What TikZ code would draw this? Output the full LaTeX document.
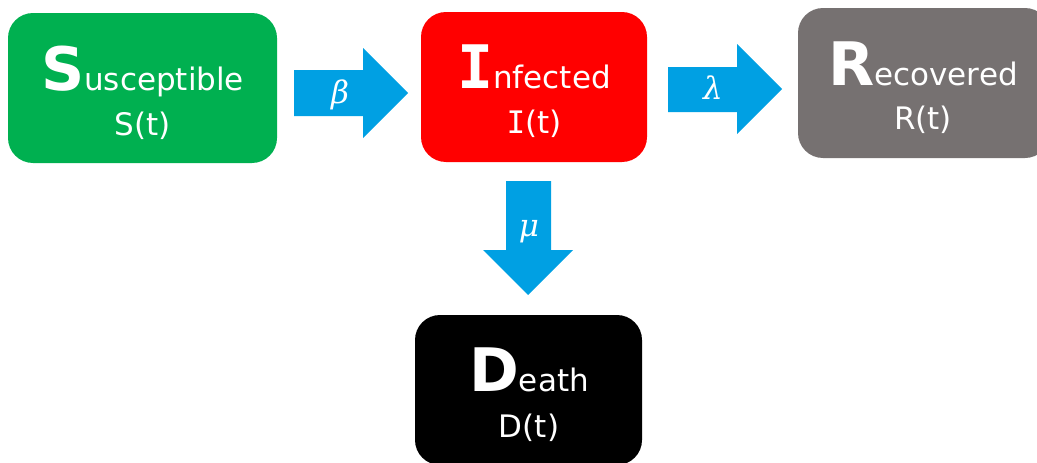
\documentclass[tikz,border=0pt]{standalone}
\usepackage{fontspec}
\setmainfont{DejaVu Sans}
\newfontfamily\slabfont{DejaVu Sans Mono}
\newfontfamily\gkfont{DejaVu Serif}
\definecolor{sgreen}{HTML}{00B050}
\definecolor{ired}{HTML}{FF0000}
\definecolor{rgray}{HTML}{767171}
\definecolor{arrblue}{HTML}{00A0E3}
\begin{document}
\begin{tikzpicture}[x=1pt,y=-1pt,
  box/.style={rounded corners=25pt, inner sep=0pt, outer sep=0pt, minimum height=150pt},
  lbl/.style={anchor=base, text=white, inner sep=0pt},
  smallt/.style={font=\fontsize{31}{31}\selectfont},
  greek/.style={text=white, inner sep=0pt, font=\gkfont\itshape\fontsize{31}{31}\selectfont},
  blockarrow/.style={fill=arrblue, draw=none}]
\useasboundingbox (0,0) rectangle (1037,463);
\clip (0,0) rectangle (1037,463);
% boxes
\node[box, fill=sgreen, minimum width=269pt] (S) at (142.5,88) {};
\node[box, fill=ired, minimum width=226pt] (I) at (534,87) {};
\node[box, fill=rgray, minimum width=252pt] (R) at (924,83) {};
\node[box, fill=black, minimum width=227pt] (D) at (528.5,390) {};
% labels
\node[lbl] (Sname) at (142.5,90) {{\fontsize{60}{60}\selectfont\bfseries S}{\fontsize{31}{31}\selectfont usceptible}};
\node[lbl, smallt] (St) at (142.5,135) {S(t)};
\node[lbl] (Iname) at (534,88) {{\fontsize{60}{60}\selectfont\bfseries\slabfont I}{\fontsize{31}{31}\selectfont nfected}};
\node[lbl, smallt] (It) at (534,133) {{\slabfont I}(t)};
\node[lbl] (Rname) at (923,85) {{\fontsize{60}{60}\selectfont\bfseries R}{\fontsize{31}{31}\selectfont ecovered}};
\node[lbl, smallt] (Rt) at (923,129) {R(t)};
\node[lbl] (Dname) at (529,391) {{\fontsize{60}{60}\selectfont\bfseries D}{\fontsize{31}{31}\selectfont eath}};
\node[lbl, smallt] (Dt) at (529,437) {D(t)};
% block arrows
\path[blockarrow] (294,70) -- (363,70) -- (363,48) -- (408,93) -- (363,138) -- (363,116) -- (294,116) -- cycle;
\node[greek, anchor=base] (beta) at (340,103) {β};
\path[blockarrow] (668,67) -- (737,67) -- (737,44) -- (782,89) -- (737,134) -- (737,112) -- (668,112) -- cycle;
\node[greek, anchor=base] (lambda) at (713,99) {λ};
\path[blockarrow] (506,181) -- (551,181) -- (551,250) -- (573,250) -- (528,295) -- (483,250) -- (506,250) -- cycle;
\node[greek, anchor=base] (mu) at (529,236) {μ};
\end{tikzpicture}
\end{document}
